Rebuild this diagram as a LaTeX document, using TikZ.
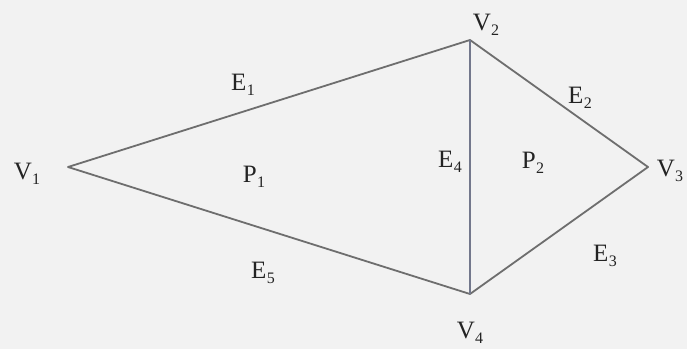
\documentclass[tikz,border=0pt]{standalone}
\usepackage{fontspec}
\setmainfont{Liberation Serif}
\definecolor{bgc}{RGB}{242,242,242}
\definecolor{edgec}{RGB}{110,110,110}
\definecolor{vedge}{RGB}{115,120,140}
\definecolor{txtc}{RGB}{35,35,35}
\newcommand\lbl[2]{#1\kern0.3pt\raisebox{-0.45ex}{\fontsize{16}{16}\selectfont #2}}
\begin{document}
\begin{tikzpicture}[x=1pt,y=-1pt,
  edge/.style={draw=edgec,line width=1.8pt,line cap=round,line join=round},
  vedge/.style={draw=vedge,line width=1.8pt},
  lab/.style={text=txtc,font=\fontsize{25}{25}\selectfont,inner sep=0pt}]
\fill[bgc] (0,0) rectangle (687,349);
\useasboundingbox (0,0) rectangle (687,349);
\coordinate (v1) at (68,167);
\coordinate (v2) at (470,40);
\coordinate (v3) at (648,167);
\coordinate (v4) at (470,294);
\draw[edge] (v1) -- (v2) -- (v3) -- (v4) -- cycle;
\draw[vedge] (v2) -- (v4);
\node[lab] (lv1) at (27,174) {\lbl{V}{1}};
\node[lab] (lv2) at (486,25) {\lbl{V}{2}};
\node[lab] (lv3) at (670,171) {\lbl{V}{3}};
\node[lab] (lv4) at (470,333) {\lbl{V}{4}};
\node[lab] (le1) at (243,85) {\lbl{E}{1}};
\node[lab] (le2) at (580,98) {\lbl{E}{2}};
\node[lab] (le3) at (605,256) {\lbl{E}{3}};
\node[lab] (le4) at (450,162) {\lbl{E}{4}};
\node[lab] (le5) at (263,273) {\lbl{E}{5}};
\node[lab] (lp1) at (254,177) {\lbl{P}{1}};
\node[lab] (lp2) at (533,163) {\lbl{P}{2}};
\end{tikzpicture}
\end{document}
